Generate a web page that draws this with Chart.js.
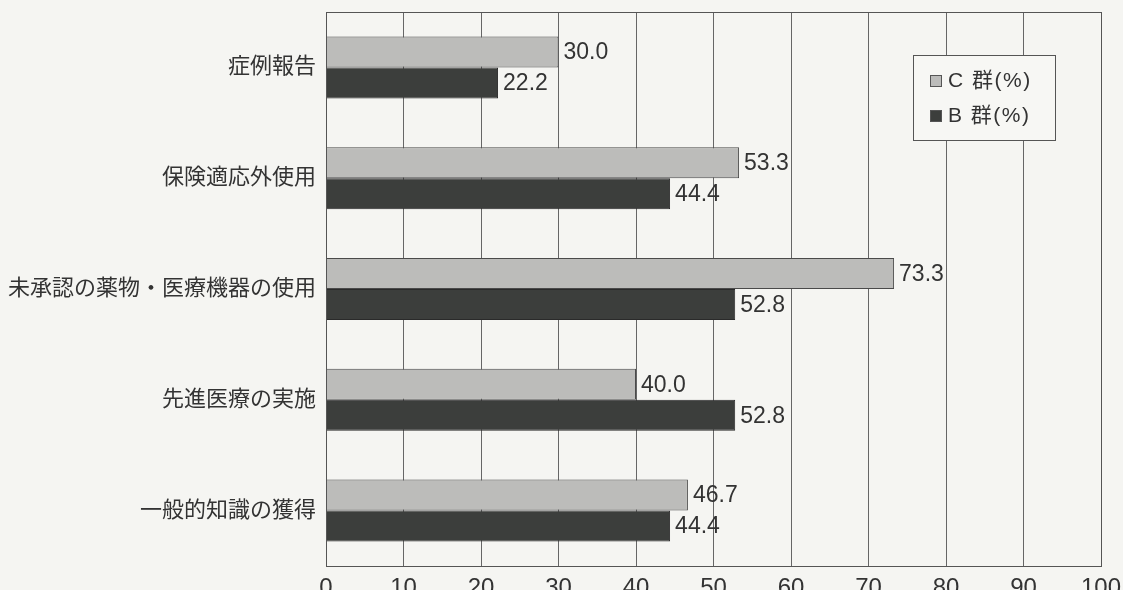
<!DOCTYPE html>
<html>
<head>
<meta charset="utf-8">
<script src="https://cdn.jsdelivr.net/npm/chart.js@4.4.1/dist/chart.umd.min.js"></script>
<style>
  html, body { margin: 0; padding: 0; background: #f5f5f2; }
  #wrap { width: 1123px; height: 590px; }
</style>
</head>
<body>
<div id="wrap"><canvas id="c" width="1123" height="590"></canvas></div>
<script>
const categories = ['症例報告', '保険適応外使用', '未承認の薬物・医療機器の使用', '先進医療の実施', '一般的知識の獲得'];
const seriesNames = ['C 群(%)', 'B 群(%)'];
const groupC = [30.0, 53.3, 73.3, 40.0, 46.7];
const groupB = [22.2, 44.4, 52.8, 52.8, 44.4];
const xTicks = [0, 10, 20, 30, 40, 50, 60, 70, 80, 90, 100];

const FONT = '"Liberation Sans", Arial, "Noto Sans CJK JP", sans-serif';
const TEXT = '#333333';

// Frame around the plot area (top edge is not drawn by the axes)
const frame = {
  id: 'frame',
  afterDatasetsDraw(chart) {
    const { ctx, chartArea: a } = chart;
    ctx.save();
    ctx.strokeStyle = '#555555';
    ctx.lineWidth = 1;
    ctx.strokeRect(Math.round(a.left) + 0.5, Math.round(a.top) + 0.5,
                   Math.round(a.right - a.left), Math.round(a.bottom - a.top));
    ctx.restore();
  }
};

// Value label at the end of each bar
const valueLabels = {
  id: 'valueLabels',
  afterDatasetsDraw(chart) {
    const { ctx } = chart;
    ctx.save();
    ctx.font = '23px ' + FONT;
    ctx.fillStyle = TEXT;
    ctx.textAlign = 'left';
    ctx.textBaseline = 'middle';
    chart.data.datasets.forEach((ds, i) => {
      chart.getDatasetMeta(i).data.forEach((bar, j) => {
        ctx.fillText(ds.data[j].toFixed(1), bar.x + 5, bar.y + 1);
      });
    });
    ctx.restore();
  }
};

// Boxed legend placed inside the plot, upper right
const boxLegend = {
  id: 'boxLegend',
  afterDraw(chart) {
    const { ctx } = chart;
    const x = 913, y = 55, w = 142, h = 85;
    ctx.save();
    ctx.fillStyle = '#f7f7f4';
    ctx.fillRect(x, y, w, h);
    ctx.strokeStyle = '#555555';
    ctx.lineWidth = 1;
    ctx.strokeRect(x + 0.5, y + 0.5, w, h);
    ctx.font = '21px ' + FONT;
    ctx.textBaseline = 'middle';
    if ('letterSpacing' in ctx) ctx.letterSpacing = '1.5px';
    chart.data.datasets.forEach((ds, i) => {
      const cy = y + 26 + i * 35;
      ctx.fillStyle = ds.backgroundColor;
      ctx.fillRect(930, cy - 6, 12, 12);
      ctx.strokeStyle = '#555555';
      ctx.strokeRect(930.5, cy - 5.5, 11, 11);
      ctx.fillStyle = TEXT;
      ctx.fillText(ds.label, 948, cy);
    });
    ctx.restore();
  }
};

new Chart(document.getElementById('c'), {
  type: 'bar',
  data: {
    labels: categories,
    datasets: [
      { label: seriesNames[0], data: groupC, backgroundColor: '#bcbcba', borderColor: '#4a4a4a', borderWidth: 1 },
      { label: seriesNames[1], data: groupB, backgroundColor: '#3c3e3c', borderColor: '#2a2a2a', borderWidth: 1 }
    ]
  },
  options: {
    indexAxis: 'y',
    responsive: false,
    animation: false,
    devicePixelRatio: 1,
    layout: { padding: { top: 12, right: 22, left: 0, bottom: 0 } },
    datasets: { bar: { categoryPercentage: 0.56, barPercentage: 1.0 } },
    plugins: { legend: { display: false }, tooltip: { enabled: false } },
    scales: {
      x: {
        min: 0, max: 100,
        afterBuildTicks(scale) { scale.ticks = xTicks.map(v => ({ value: v })); },
        afterFit(scale) { scale.height = 24; scale.paddingLeft = 0; scale.paddingRight = 0; },
        grid: { color: '#666666', lineWidth: 1, drawTicks: false },
        border: { color: '#555555' },
        ticks: { color: TEXT, font: { family: FONT, size: 24 }, padding: 8, maxRotation: 0 }
      },
      y: {
        afterFit(scale) { scale.width = 326; scale.paddingTop = 0; scale.paddingBottom = 0; },
        grid: { display: false, drawTicks: false },
        border: { color: '#555555' },
        ticks: { color: TEXT, font: { family: FONT, size: 22 }, padding: 10 }
      }
    }
  },
  plugins: [frame, valueLabels, boxLegend]
});
</script>
</body>
</html>
